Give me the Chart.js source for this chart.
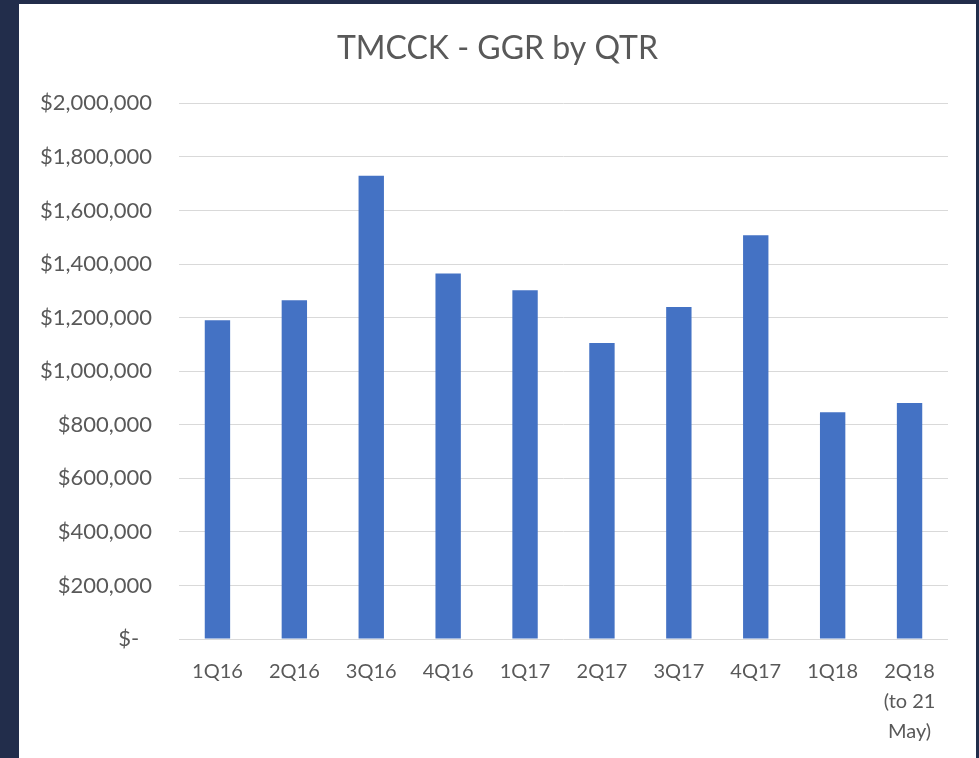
<!DOCTYPE html>
<html>
<head>
<meta charset="utf-8">
<script src="https://cdn.jsdelivr.net/npm/chart.js@4"></script>
<style>
  html, body { margin: 0; padding: 0; }
  body { width: 979px; height: 758px; background: #222d4b; position: relative; overflow: hidden; }
  #panel { position: absolute; left: 19px; top: 4px; width: 957px; height: 754px; background: #ffffff; }
</style>
</head>
<body>
<div id="panel"><canvas id="barChart" width="957" height="754"></canvas></div>
<script>
const quarters = ['1Q16', '2Q16', '3Q16', '4Q16', '1Q17', '2Q17', '3Q17', '4Q17', '1Q18', ['2Q18', '(to 21', 'May)']];
const ggr = [1190000, 1265000, 1730000, 1365000, 1302000, 1105000, 1240000, 1508000, 847000, 881000];
const yTicks = [0, 200000, 400000, 600000, 800000, 1000000, 1200000, 1400000, 1600000, 1800000, 2000000];

const labelColor = '#595959';
const fontFamily = 'Lato, "Open Sans", sans-serif';

// centre the title on the whole panel, not just the area left of the right padding
const centerTitle = {
    id: 'centerTitle',
    afterLayout: function(chart) {
        if (chart.titleBlock) chart.titleBlock.right = chart.width;
    }
};

document.addEventListener('DOMContentLoaded', function() {
    const ctx = document.getElementById('barChart').getContext('2d');

    new Chart(ctx, {
        type: 'bar',
        data: {
            labels: quarters,
            datasets: [{
                label: 'GGR',
                data: ggr,
                backgroundColor: '#4472c4',
                borderWidth: 0,
                categoryPercentage: 1,
                barPercentage: 0.33
            }]
        },
        plugins: [centerTitle],
        options: {
            responsive: false,
            animation: false,
            layout: { padding: { left: 0, right: 28, top: 0, bottom: 0 } },
            plugins: {
                legend: { display: false },
                tooltip: { enabled: false },
                title: {
                    display: true,
                    text: 'TMCCK - GGR by QTR',
                    color: labelColor,
                    font: { family: fontFamily, size: 32, weight: 'normal', lineHeight: 1.2 },
                    padding: { top: 25, bottom: 36 }
                }
            },
            scales: {
                x: {
                    grid: { display: false },
                    border: { display: false },
                    ticks: {
                        color: labelColor,
                        font: { family: fontFamily, size: 20, lineHeight: 1.52 },
                        padding: 9,
                        maxRotation: 0,
                        autoSkip: false
                    },
                    afterFit: function(scale) { scale.height = 119; }
                },
                y: {
                    min: 0,
                    max: 2000000,
                    afterBuildTicks: function(scale) {
                        scale.ticks = yTicks.map(v => ({ value: v }));
                    },
                    grid: { color: '#d9d9d9', lineWidth: 1, drawTicks: false },
                    border: { display: false },
                    ticks: {
                        color: labelColor,
                        font: { family: fontFamily, size: 22 },
                        padding: 27,
                        callback: function(v) {
                            if (v === 0) return '$-\u2007';
                            return '$' + v.toLocaleString('en-US');
                        }
                    },
                    afterFit: function(scale) { scale.width = 160; }
                }
            }
        }
    });
});
</script>
</body>
</html>
